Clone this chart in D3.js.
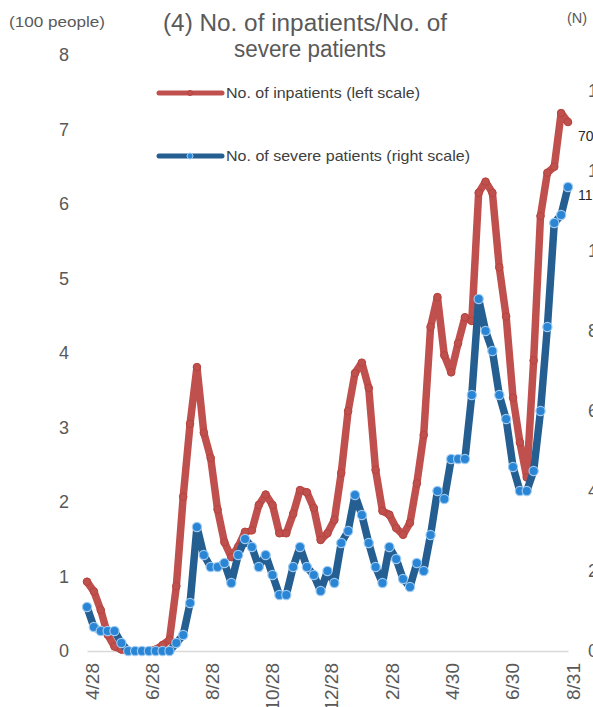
<!DOCTYPE html>
<html>
<head>
<script src="https://d3js.org/d3.v7.min.js"></script>
<style>
  body { margin: 0; background: #fff; }
  svg { display: block; font-family: "Liberation Sans", Arial, sans-serif; }
</style>
</head>
<body>
<div id="chart"></div>
<script>
// weekly categories
const weeks = [
  "2020-04-28","2020-05-05","2020-05-12","2020-05-19","2020-05-26","2020-06-02","2020-06-09","2020-06-16",
  "2020-06-23","2020-06-30","2020-07-07","2020-07-14","2020-07-21","2020-07-28","2020-08-04","2020-08-11",
  "2020-08-18","2020-08-25","2020-09-01","2020-09-08","2020-09-15","2020-09-22","2020-09-29","2020-10-06",
  "2020-10-13","2020-10-20","2020-10-27","2020-11-03","2020-11-10","2020-11-17","2020-11-24","2020-12-01",
  "2020-12-08","2020-12-15","2020-12-22","2020-12-29","2021-01-05","2021-01-12","2021-01-19","2021-01-26",
  "2021-02-02","2021-02-09","2021-02-16","2021-02-23","2021-03-02","2021-03-09","2021-03-16","2021-03-23",
  "2021-03-30","2021-04-06","2021-04-13","2021-04-20","2021-04-27","2021-05-04","2021-05-11","2021-05-18",
  "2021-05-25","2021-06-01","2021-06-08","2021-06-15","2021-06-22","2021-06-29","2021-07-06","2021-07-13",
  "2021-07-20","2021-07-27","2021-08-03","2021-08-10","2021-08-17","2021-08-24","2021-08-31"
];

// inpatients, units of 100 people (left scale)
const inpatients = [
  0.93, 0.8, 0.55, 0.22, 0.06, 0.02, 0, 0, 0, 0, 0.02, 0.08, 0.15, 0.87, 2.07, 3.05,
  3.81, 2.93, 2.59, 1.9, 1.46, 1.26, 1.4, 1.6, 1.62, 1.96, 2.1, 1.96, 1.58, 1.58, 1.84, 2.16,
  2.13, 1.92, 1.49, 1.58, 1.76, 2.39, 3.22, 3.73, 3.87, 3.53, 2.43, 1.88, 1.83, 1.65, 1.56, 1.72,
  2.25, 2.9, 4.35, 4.75, 3.97, 3.74, 4.13, 4.48, 4.43, 6.15, 6.3, 6.15, 5.15, 4.49, 3.4, 2.8,
  2.33, 3.9, 5.84, 6.42, 6.5, 7.22, 7.1
];

// severe patients, N (right scale)
const severe = [
  11, 6, 5, 5, 5, 2, 0, 0, 0, 0, 0, 0, 0, 2, 4, 12,
  31, 24, 21, 21, 22, 17, 24, 28, 26, 21, 24, 19, 14, 14, 21, 26,
  21, 19, 15, 20, 17, 27, 30, 39, 34, 27, 21, 17, 26, 23, 18, 16,
  22, 20, 29, 40, 38, 48, 48, 48, 64, 88, 80, 75, 64, 58, 46, 40,
  40, 45, 60, 81, 107, 109, 116
];

const tickDates = ["2020-04-28","2020-06-28","2020-08-28","2020-10-28","2020-12-28",
                   "2021-02-28","2021-04-30","2021-06-30","2021-08-31"];
const tickLabels = ["4/28","6/28","8/28","10/28","12/28","2/28","4/30","6/30","8/31"];
const leftTicks = [0, 1, 2, 3, 4, 5, 6, 7, 8];
const rightTicks = [0, 20, 40, 60, 80, 100, 120, 140];
const lastLabels = ["707", "117"];

const width = 593, height = 707;
const parse = d3.utcParse("%Y-%m-%d");
const data = weeks.map((w, i) => ({ date: parse(w), inp: inpatients[i], sev: severe[i] }));

const svg = d3.select("#chart").append("svg")
  .attr("width", width).attr("height", height);

const x = d3.scaleUtc()
  .domain([parse(weeks[0]), parse(weeks[weeks.length - 1])])
  .range([87, 568]);
const yL = d3.scaleLinear().domain([0, 8]).range([651, 55]);
const yR = d3.scaleLinear().domain([0, 140]).range([651, 91]);

const grey = "#595959";

// x axis
const xAxis = svg.append("g")
  .attr("transform", "translate(0,651)")
  .call(d3.axisBottom(x)
    .tickValues(tickDates.map(parse))
    .tickFormat((d, i) => tickLabels[i])
    .tickSize(0));
xAxis.select(".domain").attr("stroke", "#d9d9d9").attr("stroke-width", 1.5);
xAxis.selectAll("text")
  .attr("fill", grey)
  .attr("font-size", 19)
  .attr("text-anchor", "end")
  .attr("transform", "rotate(-90)")
  .attr("x", -12)
  .attr("y", 0)
  .attr("dy", "0.6em");

// left axis
const lAxis = svg.append("g")
  .attr("transform", "translate(72,0)")
  .call(d3.axisLeft(yL).tickValues(leftTicks).tickSize(0).tickPadding(0));
lAxis.select(".domain").remove();
lAxis.selectAll("text").attr("fill", grey).attr("font-size", 18).attr("text-anchor", "middle").attr("x", -8);

// right axis
const rAxis = svg.append("g")
  .attr("transform", "translate(588,0)")
  .call(d3.axisRight(yR).tickValues(rightTicks).tickSize(0).tickPadding(0));
rAxis.select(".domain").remove();
rAxis.selectAll("text").attr("fill", grey).attr("font-size", 18);

// unit labels and title
svg.append("text").attr("x", 57).attr("y", 27).attr("text-anchor", "middle")
  .attr("font-size", 14.5).attr("fill", grey)
  .attr("textLength", 96).attr("lengthAdjust", "spacingAndGlyphs").text("(100 people)");
svg.append("text").attr("x", 577).attr("y", 23).attr("text-anchor", "middle")
  .attr("font-size", 14.5).attr("fill", grey).text("(N)");
svg.append("text").attr("x", 305).attr("y", 31).attr("text-anchor", "middle")
  .attr("font-size", 23.5).attr("fill", grey)
  .attr("textLength", 284).attr("lengthAdjust", "spacingAndGlyphs").text("(4) No. of inpatients/No. of");
svg.append("text").attr("x", 310).attr("y", 57).attr("text-anchor", "middle")
  .attr("font-size", 23.5).attr("fill", grey)
  .attr("textLength", 152).attr("lengthAdjust", "spacingAndGlyphs").text("severe patients");

const red = "#c0504d", blue = "#255e91";

// inpatients line
const lineL = d3.line().x(d => x(d.date)).y(d => yL(d.inp));
svg.append("path").datum(data)
  .attr("fill", "none").attr("stroke", red).attr("stroke-width", 7.5)
  .attr("stroke-linejoin", "round").attr("stroke-linecap", "round")
  .attr("d", lineL);
svg.append("g").selectAll("circle").data(data).join("circle")
  .attr("cx", d => x(d.date)).attr("cy", d => yL(d.inp)).attr("r", 3.8)
  .attr("fill", red).attr("stroke", "#b6443f").attr("stroke-width", 1);

// severe line
const lineR = d3.line().x(d => x(d.date)).y(d => yR(d.sev));
svg.append("path").datum(data)
  .attr("fill", "none").attr("stroke", blue).attr("stroke-width", 7.5)
  .attr("stroke-linejoin", "round").attr("stroke-linecap", "round")
  .attr("d", lineR);
svg.append("g").selectAll("circle").data(data).join("circle")
  .attr("cx", d => x(d.date)).attr("cy", d => yR(d.sev)).attr("r", 4.6)
  .attr("fill", "#2a85d5").attr("stroke", "#9ccaf2").attr("stroke-width", 1.2);

// end value labels
const last = data[data.length - 1];
svg.append("text").attr("x", 578).attr("y", yL(last.inp) + 19)
  .attr("font-size", 14).attr("fill", "#262626").text(lastLabels[0]);
svg.append("text").attr("x", 578).attr("y", yR(last.sev) + 13)
  .attr("font-size", 14).attr("fill", "#262626").text(lastLabels[1]);

// legend
const legend = [
  { y: 93, color: red, mfill: red, mstroke: "#b6443f", r: 2.5, w: 194, text: "No. of inpatients (left scale)" },
  { y: 156, color: blue, mfill: "#2a85d5", mstroke: "#9ccaf2", r: 3, w: 244, text: "No. of severe patients (right scale)" }
];
const lg = svg.append("g").selectAll("g").data(legend).join("g");
lg.append("line").attr("x1", 159).attr("x2", 222)
  .attr("y1", d => d.y).attr("y2", d => d.y)
  .attr("stroke", d => d.color).attr("stroke-width", 5).attr("stroke-linecap", "round");
lg.append("circle").attr("cx", 190).attr("cy", d => d.y).attr("r", d => d.r)
  .attr("fill", d => d.mfill).attr("stroke", d => d.mstroke);
lg.append("text").attr("x", 226).attr("y", d => d.y).attr("dy", "0.35em")
  .attr("font-size", 14.5).attr("fill", "#404040")
  .attr("textLength", d => d.w).attr("lengthAdjust", "spacingAndGlyphs")
  .text(d => d.text);
</script>
</body>
</html>
